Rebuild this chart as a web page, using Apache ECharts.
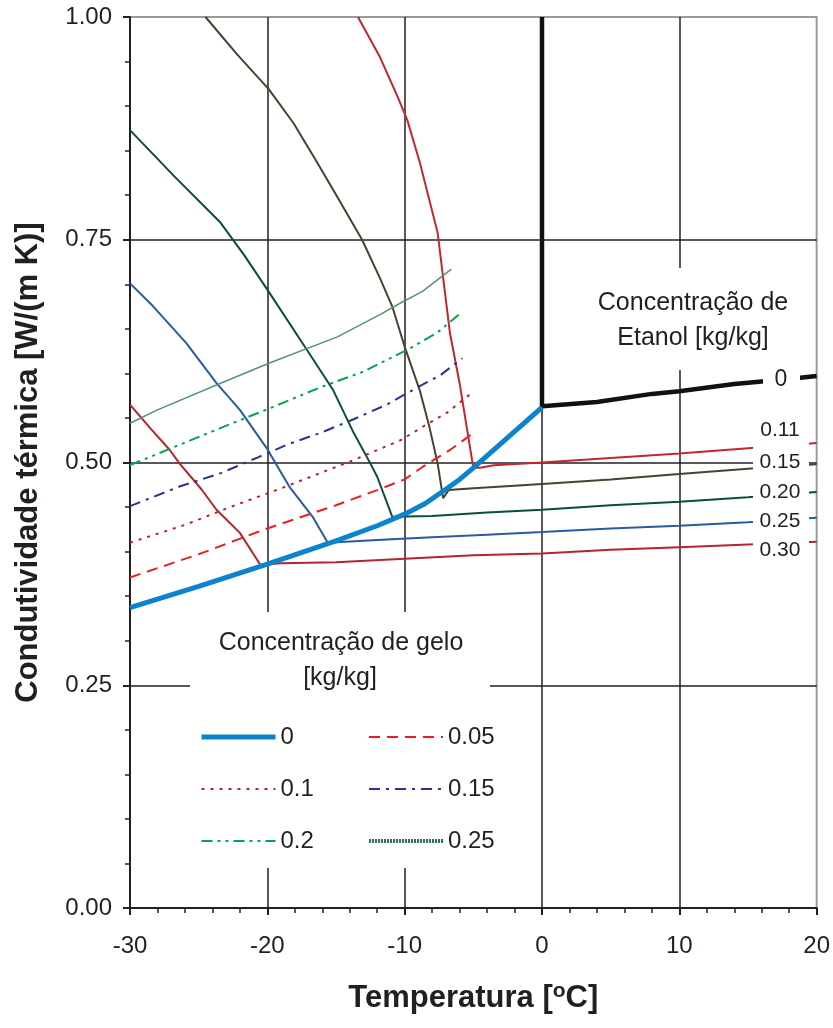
<!DOCTYPE html>
<html>
<head>
<meta charset="utf-8">
<script src="https://cdn.jsdelivr.net/npm/echarts@6/dist/echarts.min.js"></script>
<style>
	html, body { margin: 0; padding: 0; background: #fff; }
	#chart { width: 833px; height: 1028px; }
</style>
</head>
<body>
<div id="chart"></div>
<script>
// Concentração de gelo [kg/kg] - linhas de gelo (T, k)
const gelo0 = [[-30, 0.337], [-25, 0.361], [-20, 0.386], [-15, 0.412], [-12, 0.429], [-10, 0.442], [-8.5, 0.454], [-7, 0.470], [-6, 0.481], [-5, 0.494], [-2.5, 0.528], [0, 0.562]];
const gelo005 = [[-30, 0.371], [-25, 0.397], [-20, 0.426], [-15, 0.452], [-12, 0.469], [-10, 0.481], [-8.7, 0.495], [-6.7, 0.514], [-5, 0.533]];
const gelo01 = [[-30, 0.410], [-26, 0.430], [-22.7, 0.450], [-19, 0.471], [-14, 0.501], [-10.3, 0.525], [-8.8, 0.539], [-6.9, 0.556], [-5.2, 0.577]];
const gelo015 = [[-30, 0.451], [-26.4, 0.473], [-23.4, 0.488], [-20.8, 0.505], [-18.4, 0.521], [-16, 0.534], [-13.8, 0.548], [-11.3, 0.565], [-9.1, 0.584], [-7.4, 0.598], [-5.8, 0.617]];
const gelo02 = [[-30, 0.497], [-27, 0.516], [-23.2, 0.540], [-19.8, 0.561], [-16.2, 0.584], [-13, 0.602], [-9.5, 0.629], [-7.6, 0.646], [-5.9, 0.668]];
const gelo025 = [[-30, 0.544], [-28, 0.559], [-23.4, 0.589], [-19.8, 0.612], [-14.9, 0.641], [-11.8, 0.666], [-10.3, 0.679], [-8.7, 0.692], [-6.6, 0.717]];

// Concentração de Etanol [kg/kg] - curvas (T, k)
const etanol0 = [[0, 1.0], [0, 0.563], [4, 0.568], [8, 0.577], [10, 0.580], [14, 0.588], [16, 0.591], [18.8, 0.595], [20, 0.597]];
const etanol011 = [[-13.4, 1.0], [-11.8, 0.955], [-10.5, 0.910], [-9.8, 0.884], [-8.9, 0.837], [-7.6, 0.758], [-6.7, 0.645], [-6.0, 0.589], [-5.0, 0.494], [-4.5, 0.494], [-3.5, 0.497], [0, 0.500], [5, 0.505], [10, 0.510], [15, 0.516], [20, 0.522]];
const etanol015 = [[-24.5, 1.0], [-22.2, 0.958], [-19.9, 0.919], [-18.1, 0.881], [-16.5, 0.840], [-14.9, 0.798], [-13.1, 0.750], [-11.8, 0.707], [-10.9, 0.675], [-10.0, 0.630], [-8.9, 0.581], [-8.2, 0.540], [-7.6, 0.499], [-7.2, 0.460], [-6.8, 0.469], [-5, 0.471], [-2, 0.474], [0, 0.476], [5, 0.481], [10, 0.487], [15, 0.493], [20, 0.498]];
const etanol020 = [[-30, 0.873], [-26.7, 0.820], [-23.4, 0.769], [-21.7, 0.733], [-20, 0.694], [-17.1, 0.626], [-15.2, 0.581], [-13.8, 0.536], [-12.5, 0.499], [-12, 0.484], [-10.9, 0.439], [-8, 0.440], [-4, 0.444], [0, 0.447], [5, 0.452], [10, 0.456], [15, 0.461], [20, 0.467]];
const etanol025 = [[-30, 0.701], [-28.3, 0.675], [-25.9, 0.634], [-23.7, 0.589], [-22, 0.559], [-20, 0.515], [-18.4, 0.473], [-16.7, 0.439], [-15.6, 0.410], [-12, 0.413], [-8, 0.416], [-4, 0.419], [0, 0.422], [5, 0.426], [10, 0.429], [15, 0.433], [20, 0.438]];
const etanol030 = [[-30, 0.565], [-28.5, 0.538], [-27.1, 0.514], [-26.4, 0.499], [-24.8, 0.470], [-23.7, 0.447], [-22, 0.421], [-20.5, 0.385], [-19, 0.387], [-15, 0.388], [-10, 0.392], [-5, 0.396], [0, 0.398], [5, 0.402], [10, 0.405], [15, 0.408], [20, 0.411]];

const geloNames = ['0', '0.05', '0.1', '0.15', '0.2', '0.25'];
const etanolNames = ['0', '0.11', '0.15', '0.20', '0.25', '0.30'];

const FONT = '"Liberation Sans", Arial, sans-serif';
const INK = '#231f20';

let myChart = echarts.init(document.getElementById('chart'));

function lineSeries(name, data, color, width, type, z) {
	return {
		name: name,
		type: 'line',
		data: data,
		symbol: 'none',
		silent: true,
		z: z || 2,
		lineStyle: { color: color, width: width, type: type || 'solid' },
		itemStyle: { color: color }
	};
}

let labelTexts = [];
let labelY = [380, 430, 462, 492, 521, 550];
for (let i = 0; i < etanolNames.length; i++) {
	labelTexts.push({
		type: 'text', z: 101,
		style: {
			text: etanolNames[i], x: i === 0 ? 781 : 780, y: labelY[i],
			fill: INK, fontSize: i === 0 ? 23 : 21, fontFamily: FONT,
			align: 'center', verticalAlign: 'middle'
		}
	});
}

let legendBase = {
	orient: 'vertical', top: 724, z: 200, padding: 0,
	itemWidth: 74, itemHeight: 14, itemGap: 26,
	selectedMode: false,
	itemStyle: { color: 'rgba(0,0,0,0)', borderWidth: 0, opacity: 0 },
	textStyle: { fontSize: 24, color: INK, fontFamily: FONT, lineHeight: 26 }
};

let option = {
	animation: false,
	backgroundColor: '#fff',
	grid: {
		left: 130, right: 16, top: 17, bottom: 120,
		show: true, borderColor: '#9a9a9a', borderWidth: 2
	},
	xAxis: {
		type: 'value', min: -30, max: 20, interval: 10,
		name: 'Temperatura [{s|o}C]',
		nameLocation: 'middle', nameGap: 73,
		nameTextStyle: {
			fontSize: 31, fontWeight: 'bold', color: INK, fontFamily: FONT, lineHeight: 34,
			rich: { s: { fontSize: 21, fontWeight: 'bold', color: INK, fontFamily: FONT, verticalAlign: 'top', lineHeight: 30 } }
		},
		axisLine: { onZero: false, lineStyle: { color: INK, width: 2 } },
		axisTick: { length: 7, lineStyle: { color: INK, width: 2 } },
		minorTick: { show: true, splitNumber: 5, length: 5, lineStyle: { color: INK, width: 1.5 } },
		axisLabel: { fontSize: 24, color: INK, fontFamily: FONT, margin: 26 },
		splitLine: { show: true, showMinLine: false, showMaxLine: false, lineStyle: { color: INK, width: 1.5 } }
	},
	yAxis: {
		type: 'value', min: 0, max: 1, interval: 0.25,
		name: 'Condutividade térmica [W/(m K)]',
		nameLocation: 'middle', nameGap: 86,
		nameTextStyle: { fontSize: 31, fontWeight: 'bold', color: INK, fontFamily: FONT },
		axisLine: { onZero: false, lineStyle: { color: INK, width: 2 } },
		axisTick: { length: 7, lineStyle: { color: INK, width: 2 } },
		minorTick: { show: true, splitNumber: 5, length: 5, lineStyle: { color: INK, width: 1.5 } },
		axisLabel: { fontSize: 24, color: INK, fontFamily: FONT, margin: 18, formatter: v => v.toFixed(2) },
		splitLine: { show: true, showMinLine: false, showMaxLine: false, lineStyle: { color: INK, width: 1.5 } }
	},
	legend: [
		Object.assign({}, legendBase, {
			left: 199,
			data: [{ name: '0', lineStyle: { width: 5 } }, '0.1', '0.2']
		}),
		Object.assign({}, legendBase, {
			left: 367,
			data: ['0.05', '0.15', { name: '0.25', lineStyle: { width: 4, color: '#2f6f5f', type: [2, 1] } }]
		})
	],
	graphic: [
		{ type: 'rect', z: 100, shape: { x: 190, y: 612, width: 300, height: 256 }, style: { fill: '#fff' } },
		{ type: 'text', z: 101, style: { text: 'Concentração de gelo', x: 341, y: 643, fill: INK, fontSize: 25, fontFamily: FONT, align: 'center', verticalAlign: 'middle' } },
		{ type: 'text', z: 101, style: { text: '[kg/kg]', x: 340, y: 678, fill: INK, fontSize: 25, fontFamily: FONT, align: 'center', verticalAlign: 'middle' } },
		{ type: 'rect', z: 100, shape: { x: 590, y: 268, width: 212, height: 102 }, style: { fill: '#fff' } },
		{ type: 'text', z: 101, style: { text: 'Concentração de', x: 693, y: 303, fill: INK, fontSize: 25, fontFamily: FONT, align: 'center', verticalAlign: 'middle' } },
		{ type: 'text', z: 101, style: { text: 'Etanol [kg/kg]', x: 693, y: 338, fill: INK, fontSize: 25, fontFamily: FONT, align: 'center', verticalAlign: 'middle' } },
		{ type: 'rect', z: 100, shape: { x: 763, y: 366, width: 37, height: 28 }, style: { fill: '#fff' } },
		{ type: 'rect', z: 100, shape: { x: 753, y: 414, width: 56, height: 152 }, style: { fill: '#fff' } }
	].concat(labelTexts),
	series: [
		lineSeries('Etanol 0', etanol0, '#111111', 4.5, 'solid', 3),
		lineSeries('Etanol 0.11', etanol011, '#c1272d', 2),
		lineSeries('Etanol 0.15', etanol015, '#4a4230', 2),
		lineSeries('Etanol 0.20', etanol020, '#0b4f35', 2),
		lineSeries('Etanol 0.25', etanol025, '#2b5aa3', 2),
		lineSeries('Etanol 0.30', etanol030, '#b3262c', 2),
		lineSeries(geloNames[1], gelo005, '#ed1c24', 2, [11, 7], 4),
		lineSeries(geloNames[2], gelo01, '#be1e2d', 2, [3, 6], 4),
		lineSeries(geloNames[3], gelo015, '#2e3192', 2, [11, 6, 3, 6], 4),
		lineSeries(geloNames[4], gelo02, '#00a651', 2, [11, 5, 3, 5, 3, 5], 4),
		lineSeries(geloNames[5], gelo025, '#55917f', 1.5, 'solid', 4),
		lineSeries(geloNames[0], gelo0, '#0b84cc', 5, 'solid', 5)
	]
};
myChart.setOption(option);
</script>
</body>
</html>
